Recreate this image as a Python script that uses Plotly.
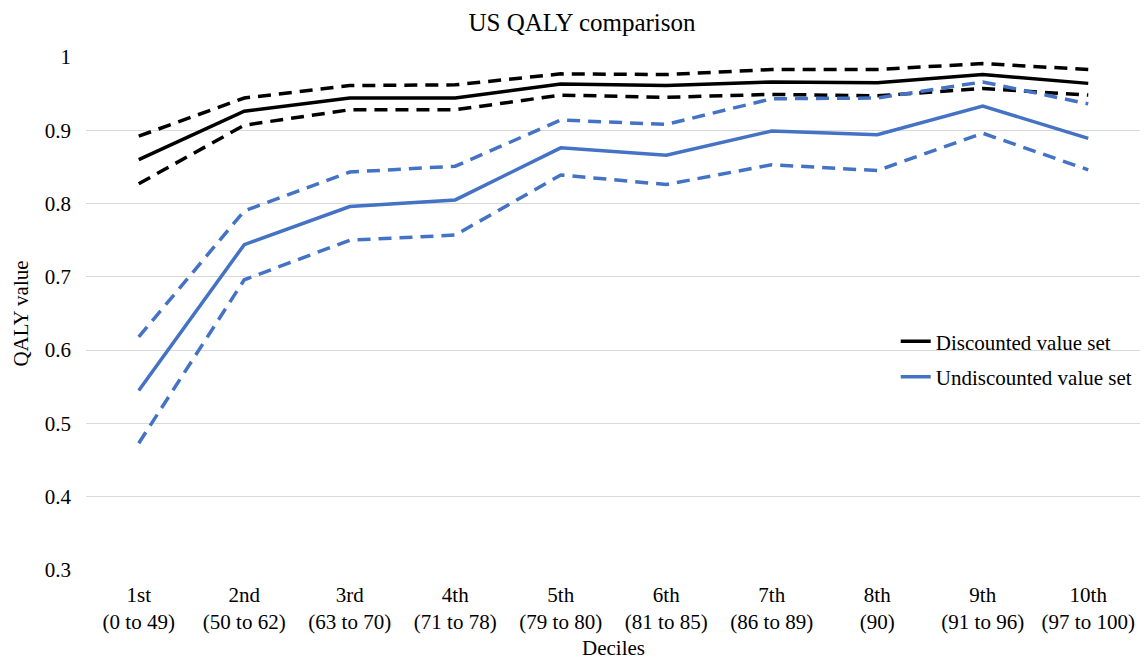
import plotly.graph_objects as go

categories = ["1st<br>(0 to 49)", "2nd<br>(50 to 62)", "3rd<br>(63 to 70)", "4th<br>(71 to 78)",
              "5th<br>(79 to 80)", "6th<br>(81 to 85)", "7th<br>(86 to 89)", "8th<br>(90)",
              "9th<br>(91 to 96)", "10th<br>(97 to 100)"]

disc_mean = [0.860, 0.926, 0.944, 0.944, 0.963, 0.961, 0.966, 0.965, 0.976, 0.964]
disc_upper = [0.892, 0.944, 0.961, 0.962, 0.977, 0.976, 0.983, 0.983, 0.991, 0.983]
disc_lower = [0.827, 0.907, 0.928, 0.928, 0.948, 0.945, 0.949, 0.947, 0.957, 0.948]

undisc_mean = [0.545, 0.744, 0.796, 0.805, 0.876, 0.866, 0.899, 0.894, 0.933, 0.889]
undisc_upper = [0.618, 0.790, 0.843, 0.851, 0.914, 0.908, 0.943, 0.944, 0.966, 0.936]
undisc_lower = [0.473, 0.696, 0.750, 0.757, 0.839, 0.826, 0.853, 0.845, 0.896, 0.846]

BLACK = "#000000"
BLUE = "#4472C4"
FONT = "Liberation Serif"
DASH = "13px,8px"
TXT = 21
LW = 3.5

fig = go.Figure()

fig.add_trace(go.Scatter(x=categories, y=disc_upper, mode="lines",
                         line=dict(color=BLACK, width=LW, dash=DASH), showlegend=False))
fig.add_trace(go.Scatter(x=categories, y=disc_lower, mode="lines",
                         line=dict(color=BLACK, width=LW, dash=DASH), showlegend=False))
fig.add_trace(go.Scatter(x=categories, y=undisc_upper, mode="lines",
                         line=dict(color=BLUE, width=LW, dash=DASH), showlegend=False))
fig.add_trace(go.Scatter(x=categories, y=undisc_lower, mode="lines",
                         line=dict(color=BLUE, width=LW, dash=DASH), showlegend=False))
fig.add_trace(go.Scatter(x=categories, y=disc_mean, mode="lines", name="Discounted value set",
                         legendgroup="a", line=dict(color=BLACK, width=LW)))
fig.add_trace(go.Scatter(x=categories, y=undisc_mean, mode="lines", name="Undiscounted value set",
                         legendgroup="b", line=dict(color=BLUE, width=LW)))

fig.update_layout(
    width=1148, height=664,
    margin=dict(l=75, r=15, t=49, b=102),
    paper_bgcolor="white", plot_bgcolor="white",
    font=dict(family=FONT, size=TXT, color="#000000"),
    title=dict(text="US QALY comparison", x=0.5, xanchor="center", y=0.979, yanchor="middle",
               font=dict(family=FONT, size=25, color="#000000")),
    xaxis=dict(title=dict(text="Deciles", standoff=7, font=dict(size=TXT)),
               showgrid=False, zeroline=False, showline=False, ticks="",
               tickfont=dict(size=TXT), range=[-0.5, 9.5], ticklabelstandoff=10),
    yaxis=dict(title=dict(text="QALY value", standoff=10, font=dict(size=TXT)),
               range=[0.3, 1.0], dtick=0.1, tickformat="~g",
               showgrid=True, gridcolor="#D9D9D9", gridwidth=1, zeroline=False,
               showline=False, ticks="", tickfont=dict(size=TXT), ticklabelstandoff=14),
    legend=dict(x=0.7675, y=0.485, xanchor="left", yanchor="top",
                bgcolor="rgba(0,0,0,0)", font=dict(size=TXT),
                traceorder="grouped", tracegroupgap=5, itemwidth=30),
    showlegend=True,
)

fig.write_html("out.html")
